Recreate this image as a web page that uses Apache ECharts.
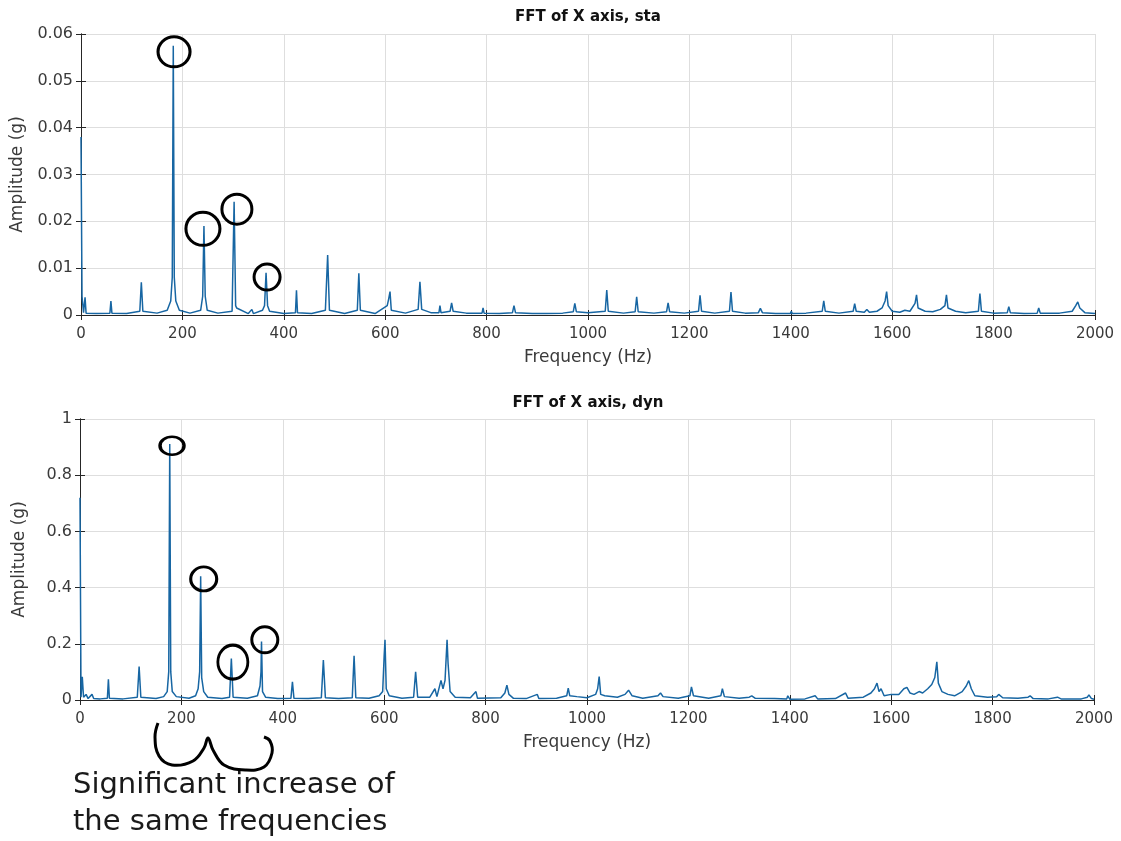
<!DOCTYPE html>
<html>
<head>
<meta charset="utf-8">
<script src="https://cdn.jsdelivr.net/npm/echarts@6/dist/echarts.min.js"></script>
<style>html,body{margin:0;padding:0;background:#fff}#c{width:1121px;height:841px}</style>
</head>
<body>
<div id="c"></div>
<script>
// ---- Data ----
const xTicks = [0, 200, 400, 600, 800, 1000, 1200, 1400, 1600, 1800, 2000];
const staTicks = [0, 0.01, 0.02, 0.03, 0.04, 0.05, 0.06];
const dynTicks = [0, 0.2, 0.4, 0.6, 0.8, 1];

const staFreq = [0,2,5,8,10,30,57,59,61,90,116,119,122,150,170,177,180,182,184,187,194,215,236,240,242.5,245,249,270,298,302,305,307,330,337,340,358,362,365,368,372,400,423,425,427,455,482,486.5,490,520,545,548,551,580,604,607,609.5,612,640,665,668.5,672,690,706,708,710,728,731,734,760,791,793,795,825,851,854,857,890,913,915,918,950,971,974,977,1000,1034,1037,1040,1070,1093,1096,1099,1130,1155,1158,1161,1190,1218,1221,1224,1250,1279,1282,1285,1310,1336,1340,1344,1370,1399,1401,1403,1430,1462,1465,1468,1495,1523,1526,1529,1545,1550,1555,1570,1580,1586,1589,1592,1600,1615,1625,1635,1645,1648,1651,1665,1680,1695,1704,1707,1710,1725,1745,1770,1773,1776,1800,1827,1830,1833,1860,1886,1889,1892,1930,1955,1962,1966,1970,1980,2000];
const staAmp = [0.038,0.004,0.0005,0.0038,0.0004,0.0003,0.0004,0.003,0.0004,0.0003,0.0008,0.007,0.0008,0.0004,0.001,0.003,0.008,0.0575,0.008,0.003,0.001,0.0004,0.001,0.004,0.019,0.004,0.001,0.0004,0.0008,0.0242,0.002,0.0015,0.0003,0.0012,0.0003,0.001,0.002,0.009,0.002,0.0008,0.0003,0.0005,0.0053,0.0005,0.0003,0.001,0.0128,0.001,0.0003,0.001,0.0089,0.001,0.0003,0.002,0.0035,0.005,0.001,0.0004,0.0012,0.0071,0.0012,0.0005,0.0005,0.002,0.0005,0.0008,0.0026,0.0008,0.0004,0.0004,0.0015,0.0004,0.0003,0.0005,0.002,0.0005,0.0003,0.0003,0.0006,0.0003,0.0004,0.0007,0.0025,0.0007,0.0005,0.0008,0.0053,0.0008,0.0004,0.0007,0.0039,0.0007,0.0004,0.0007,0.0026,0.0007,0.0004,0.0008,0.0042,0.0008,0.0004,0.0008,0.0049,0.0008,0.0004,0.0005,0.0014,0.0005,0.0003,0.0003,0.0008,0.0003,0.0004,0.0008,0.003,0.0008,0.0004,0.0008,0.0024,0.0008,0.0006,0.0012,0.0006,0.0008,0.0015,0.003,0.005,0.002,0.0008,0.0006,0.001,0.0008,0.0025,0.0043,0.0015,0.0008,0.0007,0.0012,0.002,0.0043,0.0015,0.0008,0.0005,0.0008,0.0046,0.0008,0.0004,0.0005,0.0018,0.0005,0.0003,0.0004,0.0015,0.0004,0.0004,0.0008,0.002,0.0028,0.0015,0.0005,0.0003];

const dynFreq = [0,2,4.5,7,12,16,23.7,27,40,54,56,58,85,113,116.6,120,150,165,172,175,177,179,182,190,215,228,233,236,238,240,244,252,280,295,298.5,302,330,350,355,357,358,360,366,390,416,419,422,450,476,480,484,510,537,540.6,544,570,590,597,600,601.6,604,610,635,658,662,666,690,700,704,712,716,720,724,726,730,740,770,781,784,830,838,842,846,855,880,902,905,940,960,963,966,980,1000,1017,1021,1024,1027,1035,1060,1075,1082,1089,1110,1140,1145,1150,1180,1203,1206,1210,1240,1264,1267,1271,1300,1320,1325,1332,1370,1394,1396,1400,1430,1450,1455,1490,1510,1515,1545,1560,1567,1572,1576,1580,1586,1600,1615,1625,1631,1637,1645,1655,1662,1672,1680,1686,1690,1693,1700,1712,1725,1740,1748,1753,1758,1765,1790,1808,1812,1820,1850,1870,1874,1880,1910,1928,1935,1975,1987,1990,1995,2000];
const dynAmp = [0.72,0.01,0.083,0.01,0.02,0.005,0.02,0.005,0.004,0.006,0.074,0.006,0.004,0.01,0.119,0.01,0.005,0.012,0.03,0.1,0.911,0.1,0.03,0.012,0.006,0.015,0.04,0.1,0.44,0.08,0.03,0.01,0.005,0.01,0.148,0.01,0.006,0.015,0.05,0.1,0.208,0.03,0.01,0.005,0.006,0.065,0.006,0.005,0.008,0.142,0.008,0.005,0.008,0.157,0.008,0.006,0.015,0.03,0.16,0.214,0.04,0.015,0.006,0.01,0.1,0.01,0.01,0.04,0.012,0.07,0.04,0.07,0.214,0.13,0.03,0.01,0.008,0.03,0.006,0.008,0.025,0.053,0.02,0.006,0.005,0.02,0.005,0.006,0.015,0.042,0.015,0.012,0.008,0.02,0.04,0.083,0.02,0.015,0.01,0.02,0.035,0.015,0.006,0.015,0.025,0.012,0.006,0.015,0.047,0.015,0.006,0.015,0.04,0.012,0.006,0.01,0.015,0.006,0.005,0.004,0.015,0.003,0.004,0.015,0.004,0.005,0.025,0.006,0.01,0.025,0.04,0.06,0.03,0.04,0.015,0.02,0.02,0.04,0.045,0.025,0.02,0.03,0.025,0.04,0.055,0.08,0.136,0.06,0.03,0.02,0.015,0.03,0.05,0.069,0.04,0.015,0.01,0.012,0.02,0.008,0.006,0.01,0.015,0.005,0.004,0.01,0.004,0.004,0.01,0.018,0.005,0.003];

// hand-drawn circle annotations: [freq, amplitude, width px, height px]
const staCircles = [[183.5, 0.0562, 32, 30], [240.5, 0.0184, 34, 33], [307.5, 0.0226, 30, 30], [367, 0.0081, 26, 26]];
const dynCircles = [[181.5, 0.905, 24, 18], [244, 0.431, 26, 24], [301.5, 0.135, 30, 34], [364.5, 0.214, 26, 26]];

const titles = ['FFT of X axis, sta', 'FFT of X axis, dyn'];
const xName = 'Frequency (Hz)';
const yName = 'Amplitude (g)';
const note = ['Significant increase of', 'the same frequencies'];

// ---- Chart ----
const FONT = 'DejaVu Sans';
const AX = '#262626';
const LINE = '#1766a3';
const fmt = v => String(+v.toFixed(2));

function zip(a, b) { return a.map((x, i) => [x, b[i]]); }

const grids = [
  { left: 81, right: 26, top: 34, height: 281 },
  { left: 80, right: 27, top: 419, height: 281 }
];

function mainX(gi) {
  return {
    type: 'value', gridIndex: gi, min: xTicks[0], max: xTicks[xTicks.length - 1], interval: 200,
    name: xName, nameLocation: 'middle', nameGap: 34,
    nameTextStyle: { fontFamily: FONT, fontSize: 17, color: '#3a3a3a' },
    axisLine: { show: true, lineStyle: { color: AX, width: 1 } },
    axisTick: { show: true, inside: true, length: 5, lineStyle: { color: AX } },
    axisLabel: { fontFamily: FONT, fontSize: 15, color: '#3a3a3a', margin: 12, formatter: v => String(v) },
    splitLine: { show: true, lineStyle: { color: '#dedede', width: 1 } }
  };
}
function topX(gi) {
  return {
    type: 'value', gridIndex: gi, position: 'top', min: xTicks[0], max: xTicks[xTicks.length - 1], interval: 200,
    axisLine: { show: true, lineStyle: { color: AX, width: 1 } },
    axisTick: { show: true, inside: true, length: 5, lineStyle: { color: AX } },
    axisLabel: { show: false }, splitLine: { show: false }
  };
}
function mainY(gi, ticks) {
  const step = ticks[1] - ticks[0];
  return {
    type: 'value', gridIndex: gi, min: ticks[0], max: ticks[ticks.length - 1], interval: step,
    name: yName, nameLocation: 'middle', nameGap: 52,
    nameTextStyle: { fontFamily: FONT, fontSize: 17, color: '#3a3a3a' },
    axisLine: { show: true, lineStyle: { color: AX, width: 1 } },
    axisTick: { show: true, inside: true, length: 5, lineStyle: { color: AX } },
    axisLabel: { fontFamily: FONT, fontSize: 16, color: '#3a3a3a', margin: 8, formatter: fmt },
    splitLine: { show: true, lineStyle: { color: '#dedede', width: 1 } }
  };
}
function rightY(gi, ticks) {
  const step = ticks[1] - ticks[0];
  return {
    type: 'value', gridIndex: gi, position: 'right', min: ticks[0], max: ticks[ticks.length - 1], interval: step,
    axisLine: { show: true, lineStyle: { color: AX, width: 1 } },
    axisTick: { show: true, inside: true, length: 5, lineStyle: { color: AX } },
    axisLabel: { show: false }, splitLine: { show: false }
  };
}
function circles(list) {
  return {
    silent: true, animation: false,
    symbol: 'circle',
    label: { show: false },
    itemStyle: { color: 'rgba(0,0,0,0)', borderColor: '#000', borderWidth: 3 },
    data: list.map(c => ({ coord: [c[0], c[1]], symbolSize: [c[2], c[3]] }))
  };
}

const chart = echarts.init(document.getElementById('c'), null, { renderer: 'canvas' });
chart.setOption({
  animation: false,
  backgroundColor: '#fff',
  grid: grids,
  xAxis: [mainX(0), topX(0), mainX(1), topX(1)],
  yAxis: [mainY(0, staTicks), rightY(0, staTicks), mainY(1, dynTicks), rightY(1, dynTicks)],
  series: [
    { type: 'line', name: 'sta', xAxisIndex: 0, yAxisIndex: 0, data: zip(staFreq, staAmp), showSymbol: false,
      lineStyle: { color: LINE, width: 1.5 }, markPoint: circles(staCircles), z: 3 },
    { type: 'line', name: 'dyn', xAxisIndex: 2, yAxisIndex: 2, data: zip(dynFreq, dynAmp), showSymbol: false,
      lineStyle: { color: LINE, width: 1.5 }, markPoint: circles(dynCircles), z: 3 }
  ],
  graphic: [
    { type: 'text', x: 588, y: 17, style: { text: titles[0], font: 'bold 15px "DejaVu Sans"', fill: '#111', textAlign: 'center', textVerticalAlign: 'middle' } },
    { type: 'text', x: 588, y: 403, style: { text: titles[1], font: 'bold 15px "DejaVu Sans"', fill: '#111', textAlign: 'center', textVerticalAlign: 'middle' } },
    { type: 'polyline', shape: { points: [[158,723],[155,737],[159,756],[172,765],[193,761],[204,748],[208,738],[213,750],[224,765],[246,770],[264,767],[272,753],[270,741],[264,737]], smooth: 0.4 },
      style: { stroke: '#000', lineWidth: 3, fill: null } },
    { type: 'text', x: 73, y: 785, style: { text: note[0], font: '29px "DejaVu Sans"', fill: '#1a1a1a', textVerticalAlign: 'middle' } },
    { type: 'text', x: 73, y: 822, style: { text: note[1], font: '29px "DejaVu Sans"', fill: '#1a1a1a', textVerticalAlign: 'middle' } }
  ]
});
</script>
</body>
</html>
